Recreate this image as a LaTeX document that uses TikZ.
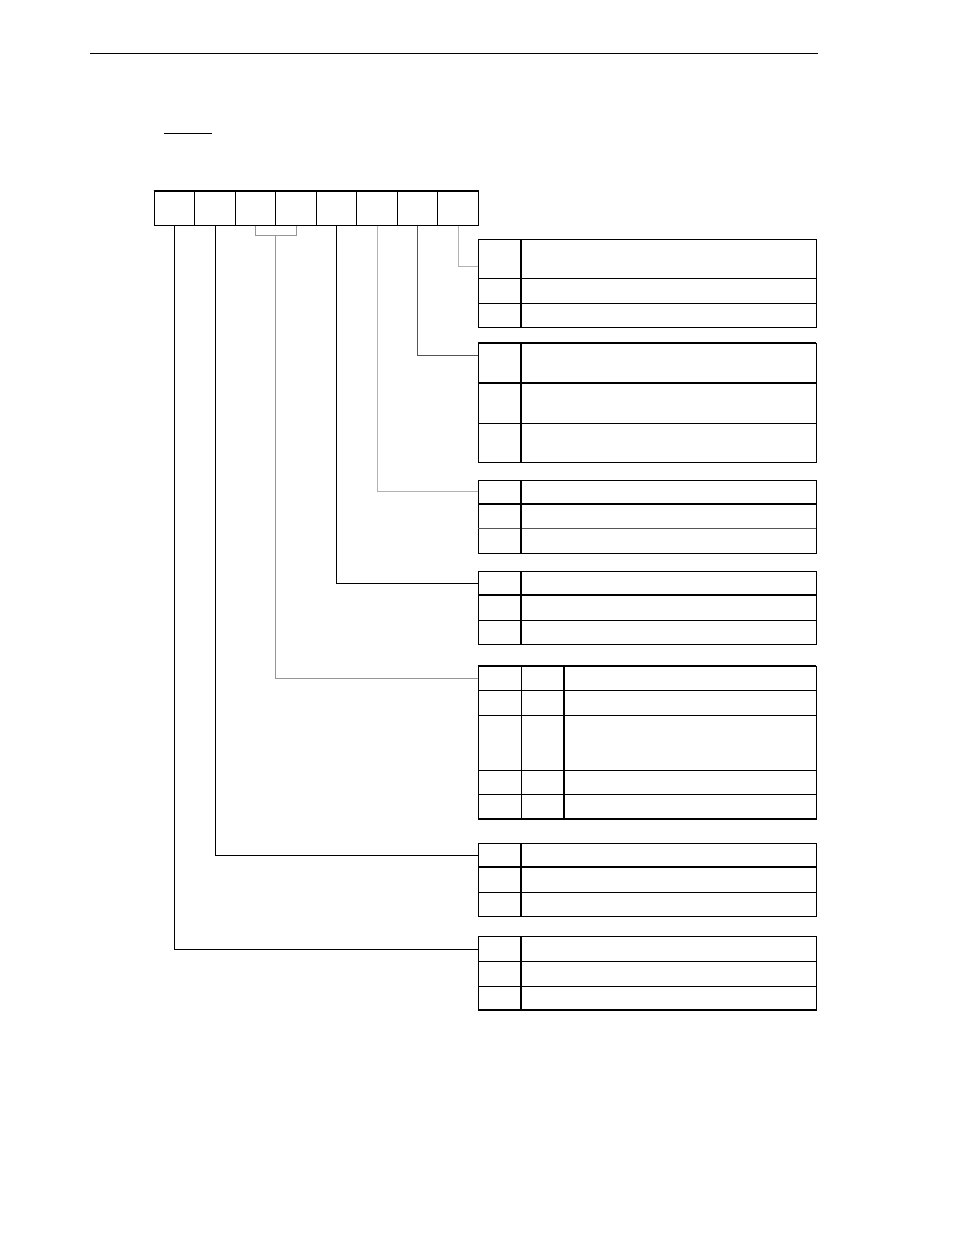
\documentclass[tikz,border=0pt]{standalone}
\usepackage{tikz}
\usetikzlibrary{positioning,calc}
\usepackage{xcolor}
\definecolor{ldlight}{RGB}{178,178,178}
\definecolor{ldmid}{RGB}{150,150,150}
\definecolor{lddark}{RGB}{85,85,85}
\tikzstyle{cell} = [rectangle, draw=black, line width=1pt, minimum width=40.5pt, minimum height=34pt, inner sep=0pt]
\tikzstyle{rule} = [line width=1pt, color=black]
\tikzstyle{heavy} = [line width=2pt, color=black]
\tikzstyle{leader} = [line width=1pt, color=black]

\begin{document}
\begin{tikzpicture}[x=1pt,y=-1pt]
\useasboundingbox (0,0) rectangle (954,1235);

% Header rule and title underline
\draw[rule] (90,53) -- (818,53);
\draw[rule] (164,133) -- (212,133);

% Register bits
\foreach \i in {0,...,7}
  \node[cell] (b\i) at ({458.1-\i*40.5},208) {};
\draw[heavy] (b7.north west) -- (b0.north east);

% Attachment points of the tables
\coordinate (tA) at (478,266);
\coordinate (tB) at (478,355);
\coordinate (tC) at (478,491);
\coordinate (tD) at (478,583);
\coordinate (tE) at (478,678);
\coordinate (tF) at (478,855);
\coordinate (tG) at (478,949);

% Table for bit 0
\draw[rule] (478,239) rectangle (816,327);
\foreach \y in {278,303} \draw[rule] (478,\y) -- (816,\y);
\draw[heavy] (521,239) -- (521,327);

% Table for bit 1
\draw[rule] (478,343) rectangle (816,462);
\foreach \y in {343,383} \draw[heavy] (478,\y) -- (816,\y);
\draw[rule] (478,423) -- (816,423);
\draw[heavy] (521,343) -- (521,462);

% Table for bit 2
\draw[rule] (478,480) rectangle (816,553);
\draw[heavy] (478,504) -- (816,504);
\draw[rule, color=lddark] (478,528) -- (816,528);
\draw[heavy] (521,480) -- (521,553);

% Table for bit 3
\draw[rule] (478,571) rectangle (816,644);
\draw[heavy] (478,595) -- (816,595);
\draw[rule] (478,620) -- (816,620);
\draw[heavy] (521,571) -- (521,644);

% Table for bits 5-4
\draw[rule] (478,666) rectangle (816,819);
\foreach \y in {666,819} \draw[heavy] (478,\y) -- (816,\y);
\foreach \y in {690,715,770,794} \draw[rule] (478,\y) -- (816,\y);
\draw[rule] (521,666) -- (521,819);
\draw[heavy] (564,666) -- (564,819);

% Table for bit 6
\draw[rule] (478,843) rectangle (816,916);
\draw[heavy] (478,867) -- (816,867);
\draw[rule] (478,892) -- (816,892);
\draw[heavy] (521,843) -- (521,916);

% Table for bit 7
\draw[rule] (478,936) rectangle (816,1010);
\foreach \y in {961,986} \draw[rule] (478,\y) -- (816,\y);
\draw[heavy] (478,1010) -- (816,1010);
\draw[heavy] (521,936) -- (521,1010);

% Leaders
\draw[leader, color=ldlight] (b0.south) |- (tA);
\draw[leader, color=lddark] (b1.south) |- (tB);
\draw[leader, color=ldlight] (b2.south) |- (tC);
\draw[leader] (b3.south) |- (tD);
\coordinate (stem) at ($(b5.south)!0.5!(b4.south)+(0,10)$);
\draw[leader, color=ldmid] (b5.south) |- (stem) -| (b4.south);
\draw[leader, color=ldmid] (stem) |- (tE);
\draw[leader] (b6.south) |- (tF);
\draw[leader] (b7.south) |- (tG);
\end{tikzpicture}
\end{document}
